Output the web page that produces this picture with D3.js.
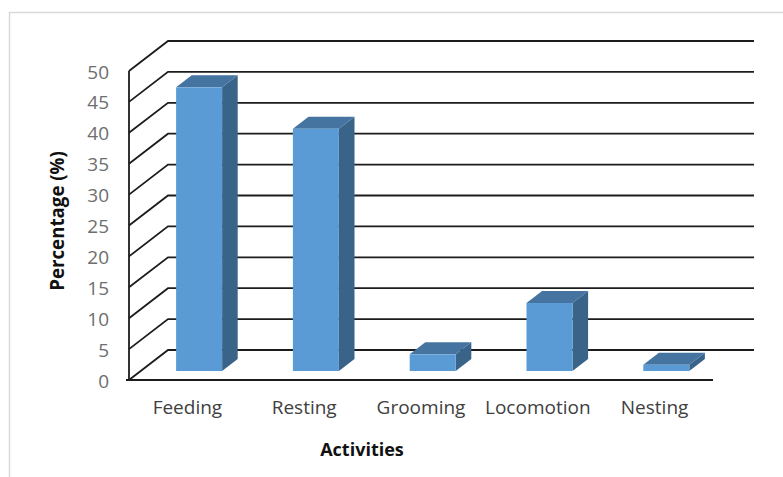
<!DOCTYPE html>
<html>
<head>
<meta charset="utf-8">
<script src="https://cdn.jsdelivr.net/npm/d3@7"></script>
<style>
  html, body { margin: 0; padding: 0; background: #fff; }
  svg { display: block; }
  text { font-family: "Open Sans", "Noto Sans", sans-serif; }
</style>
</head>
<body>
<div id="chart"></div>
<script>
const categories = ["Feeding", "Resting", "Grooming", "Locomotion", "Nesting"];
const percentages = [45.9, 39.2, 2.7, 11, 1];
const yTicks = [0, 5, 10, 15, 20, 25, 30, 35, 40, 45, 50];
const xTitle = "Activities";
const yTitle = "Percentage (%)";

const width = 783, height = 477;
const plot = { left: 129, right: 713, top: 71, bottom: 380 };
const wall = { dx: 39, dy: -30 };      // shift of the back wall from the front edge
const barFront = 0.3;                  // bar front face, as a fraction of the floor depth
const barDepth = 0.4;                  // bar thickness, as a fraction of the floor depth
const barWidth = 46;

const colors = { front: "#5b9bd5", top: "#44749f", side: "#396389", grid: "#1c1c1c", tick: "#6e6e6e", frame: "#d9d9d9" };

const svg = d3.select("#chart").append("svg").attr("width", width).attr("height", height);

const x = d3.scaleBand().domain(categories).range([plot.left, plot.right]);
const y = d3.scaleLinear().domain([0, 50]).range([plot.bottom, plot.top]);

// Outer frame: only the top and left edges are visible
svg.append("path")
  .attr("d", `M9.5,${height} V12.5 H${width}`)
  .attr("fill", "none").attr("stroke", colors.frame).attr("stroke-width", 1.5);

// Side wall diagonals and back wall gridlines
const grid = svg.append("g").attr("fill", "none").attr("stroke", colors.grid).attr("stroke-width", 1.8);
grid.selectAll("path.rule").data(yTicks).join("path")
  .attr("class", "rule")
  .attr("d", d => `M${plot.left},${y(d)} L${plot.left + wall.dx},${y(d) + wall.dy} H${plot.right + wall.dx + 2}`);
grid.append("path").attr("d", `M${plot.left},${plot.top} V${plot.bottom}`);
grid.append("path").attr("d", `M${plot.left - 3},${plot.bottom} H${plot.right}`);

// Three faces per bar
const bars = svg.append("g").selectAll("g").data(categories.map((c, i) => ({ c, v: percentages[i] }))).join("g");
const fx = d => x(d.c) + x.bandwidth() / 2 - barWidth / 2 + wall.dx * barFront;
const by = plot.bottom + wall.dy * barFront;
const ddx = wall.dx * barDepth, ddy = wall.dy * barDepth;
const ty = d => y(d.v) + wall.dy * barFront;

bars.append("path").attr("fill", colors.side)
  .attr("d", d => `M${fx(d) + barWidth},${ty(d)} l${ddx},${ddy} V${by + ddy} L${fx(d) + barWidth},${by} Z`);
bars.append("path").attr("fill", colors.top)
  .attr("d", d => `M${fx(d)},${ty(d)} l${ddx},${ddy} h${barWidth} l${-ddx},${-ddy} Z`);
bars.append("rect").attr("fill", colors.front)
  .attr("x", fx).attr("y", ty).attr("width", barWidth).attr("height", d => by - ty(d));

// Value axis labels
const yAxis = svg.append("g").attr("transform", `translate(${plot.left - 20},1)`)
  .call(d3.axisLeft(y).tickValues(yTicks).tickSize(0).tickPadding(0));
yAxis.select(".domain").remove();
yAxis.selectAll("text").attr("fill", colors.tick).style("font-size", "19px").style("font-family", '"Open Sans", sans-serif');

// Category axis labels
const xAxis = svg.append("g").attr("transform", `translate(0,${plot.bottom + 20})`)
  .call(d3.axisBottom(x).tickSize(0).tickPadding(0));
xAxis.select(".domain").remove();
xAxis.selectAll("text").attr("fill", "#404040").style("font-size", "19px").style("font-family", '"Open Sans", sans-serif');

// Axis titles
svg.append("text").attr("x", 362).attr("y", 456).attr("text-anchor", "middle")
  .attr("font-weight", 700).attr("font-size", 18).attr("fill", "#111").text(xTitle);
svg.append("text").attr("transform", "translate(64,221) rotate(-90)").attr("text-anchor", "middle")
  .attr("font-weight", 700).attr("font-size", 18.7).attr("fill", "#111").text(yTitle);
</script>
</body>
</html>
